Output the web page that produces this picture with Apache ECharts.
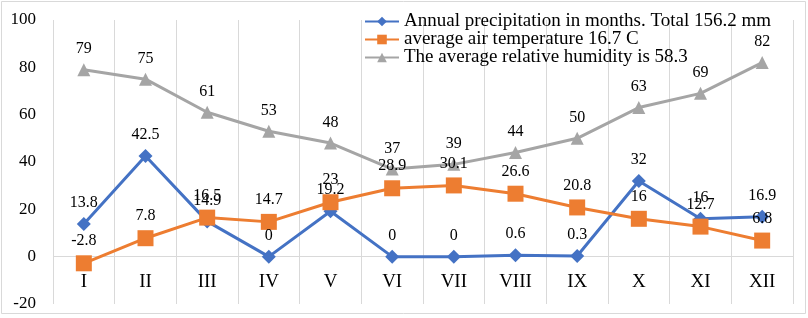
<!DOCTYPE html>
<html>
<head>
<meta charset="utf-8">
<script src="https://cdn.jsdelivr.net/npm/echarts@6/dist/echarts.min.js"></script>
<style>
  html, body { margin: 0; padding: 0; background: #fff; }
  #main { width: 808px; height: 318px; }
</style>
</head>
<body>
<div id="main"></div>
<script>
const months = ['I', 'II', 'III', 'IV', 'V', 'VI', 'VII', 'VIII', 'IX', 'X', 'XI', 'XII'];
const precipitation = [13.8, 42.5, 14.9, 0, 19.2, 0, 0, 0.6, 0.3, 32, 16, 16.9];
const temperature = [-2.8, 7.8, 16.5, 14.7, 23, 28.9, 30.1, 26.6, 20.8, 16, 12.7, 6.8];
const humidity = [79, 75, 61, 53, 48, 37, 39, 44, 50, 63, 69, 82];
const seriesNames = [
  'Annual precipitation in months. Total 156.2 mm',
  'average air temperature 16.7 C',
  'The average relative humidity is 58.3'
];

const font = 'Liberation Serif, Times New Roman, serif';
const gridColor = '#d9d9d9';
const chart = echarts.init(document.getElementById('main'));

function lineSeries(name, data, color, symbol, size) {
  return {
    name: name,
    type: 'line',
    data: data,
    symbol: symbol,
    symbolSize: size,
    lineStyle: { color: color, width: 3 },
    itemStyle: { color: color },
    label: {
      show: true,
      position: 'top',
      distance: 6,
      fontFamily: font,
      fontSize: 16,
      color: '#000'
    }
  };
}

const option = {
  animation: false,
  backgroundColor: '#fff',
  graphic: [{
    type: 'rect',
    shape: { x: 1.5, y: 1.5, width: 804, height: 312 },
    style: { fill: 'none', stroke: gridColor, lineWidth: 1 },
    silent: true
  }],
  grid: { left: 53, right: 15, top: 20, bottom: 14, outerBoundsMode: 'none' },
  legend: {
    orient: 'vertical',
    left: 359,
    top: 7,
    itemWidth: 34,
    itemHeight: 12,
    itemGap: -1,
    textStyle: { fontFamily: font, fontSize: 19, lineHeight: 19, color: '#000' },
    data: seriesNames
  },
  xAxis: {
    type: 'category',
    data: months,
    boundaryGap: true,
    axisLine: { show: false, onZero: false },
    axisTick: { show: false },
    splitLine: { show: true, lineStyle: { color: gridColor, width: 1 } },
    // labels sit just under the zero line, as in the original
    axisLabel: { fontFamily: font, fontSize: 19, color: '#000', margin: -31 }
  },
  yAxis: {
    type: 'value',
    min: -20,
    max: 100,
    interval: 20,
    axisLine: { show: false },
    axisTick: { show: false },
    // only the zero line is drawn
    splitLine: {
      show: true,
      lineStyle: {
        color: ['rgba(0,0,0,0)', gridColor, 'rgba(0,0,0,0)', 'rgba(0,0,0,0)',
                'rgba(0,0,0,0)', 'rgba(0,0,0,0)', 'rgba(0,0,0,0)'],
        width: 1
      }
    },
    axisLabel: { fontFamily: font, fontSize: 17, color: '#000', margin: 17 }
  },
  series: [
    lineSeries(seriesNames[0], precipitation, '#4472C4', 'diamond', 14),
    lineSeries(seriesNames[1], temperature, '#ED7D31', 'rect', 16),
    lineSeries(seriesNames[2], humidity, '#A5A5A5', 'triangle', 13)
  ]
};

chart.setOption(option);
</script>
</body>
</html>
